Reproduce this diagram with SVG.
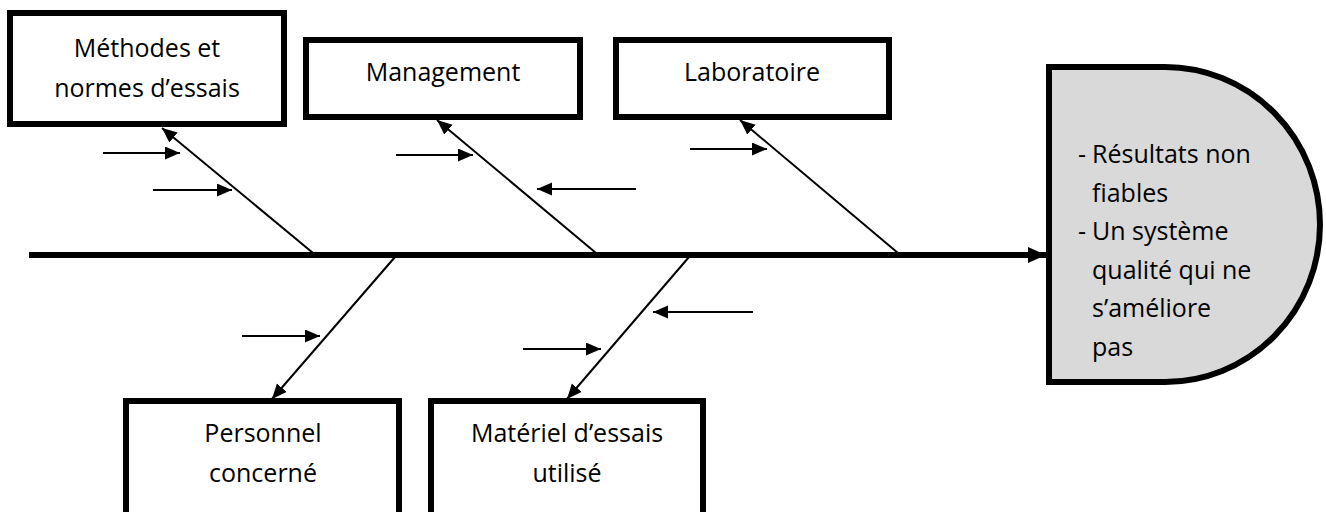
<svg xmlns="http://www.w3.org/2000/svg" width="1326" height="512" viewBox="0 0 1326 512">
<style>
.box{fill:#fff;stroke:#000;stroke-width:6}
.head{fill:#d9d9d9;stroke:#000;stroke-width:6}
.t{font-family:"Open Sans","Liberation Sans",sans-serif;font-size:25px;fill:#000}
.c{text-anchor:middle}
.bone{stroke:#000;stroke-width:2;fill:none;marker-end:url(#ah)}
.spine{stroke:#000;stroke-width:6;fill:none;marker-end:url(#sh)}
</style>
<defs>
<marker id="ah" markerUnits="userSpaceOnUse" markerWidth="16" markerHeight="14" refX="15" refY="6.5" orient="auto">
<path d="M0,0 L15,6.5 L0,13 Z" fill="#000"/>
</marker>
<marker id="sh" markerUnits="userSpaceOnUse" markerWidth="20" markerHeight="18" refX="18" refY="8" orient="auto">
<path d="M0,0 L18,8 L0,16 Z" fill="#000"/>
</marker>
</defs>
<rect width="1326" height="512" fill="#fff"/>
<g id="connectors">
<line class="spine" x1="29" y1="255" x2="1046" y2="255"/>
<line class="bone" x1="313" y1="253" x2="162" y2="128"/>
<line class="bone" x1="596" y1="253" x2="437" y2="120"/>
<line class="bone" x1="898" y1="253" x2="740" y2="120"/>
<line class="bone" x1="395" y1="257" x2="272" y2="399"/>
<line class="bone" x1="689" y1="257" x2="567" y2="399"/>
<line class="bone" x1="103" y1="153" x2="180" y2="153"/>
<line class="bone" x1="153" y1="190" x2="232" y2="190"/>
<line class="bone" x1="396" y1="155" x2="473" y2="155"/>
<line class="bone" x1="636" y1="189" x2="537" y2="189"/>
<line class="bone" x1="690" y1="149" x2="767" y2="149"/>
<line class="bone" x1="242" y1="336" x2="320" y2="336"/>
<line class="bone" x1="753" y1="312" x2="653" y2="312"/>
<line class="bone" x1="523" y1="349" x2="601" y2="349"/>
</g>
<g id="methodes">
<rect class="box" x="10" y="13" width="274" height="111"/>
<text class="t c" x="147" y="57">Méthodes et</text>
<text class="t c" x="147" y="97">normes d’essais</text>
</g>
<g id="management">
<rect class="box" x="306" y="40" width="274" height="77"/>
<text class="t c" x="443" y="81">Management</text>
</g>
<g id="laboratoire">
<rect class="box" x="616" y="40" width="273" height="77"/>
<text class="t c" x="752" y="81">Laboratoire</text>
</g>
<g id="personnel">
<rect class="box" x="126" y="401" width="273" height="130"/>
<text class="t c" x="263" y="442">Personnel</text>
<text class="t c" x="263" y="482">concerné</text>
</g>
<g id="materiel">
<rect class="box" x="431" y="401" width="272" height="130"/>
<text class="t c" x="567" y="442">Matériel d’essais</text>
<text class="t c" x="567" y="482">utilisé</text>
</g>
<g id="effet">
<path class="head" d="M1049,67 H1165 A155,157.5 0 0 1 1165,382 H1049 Z"/>
<text class="t" y="163"><tspan x="1078">-</tspan><tspan x="1092">Résultats non</tspan></text>
<text class="t" x="1092" y="202">fiables</text>
<text class="t" y="240"><tspan x="1078">-</tspan><tspan x="1092">Un système</tspan></text>
<text class="t" x="1092" y="279">qualité qui ne</text>
<text class="t" x="1092" y="317">s’améliore</text>
<text class="t" x="1092" y="356">pas</text>
</g>
</svg>
